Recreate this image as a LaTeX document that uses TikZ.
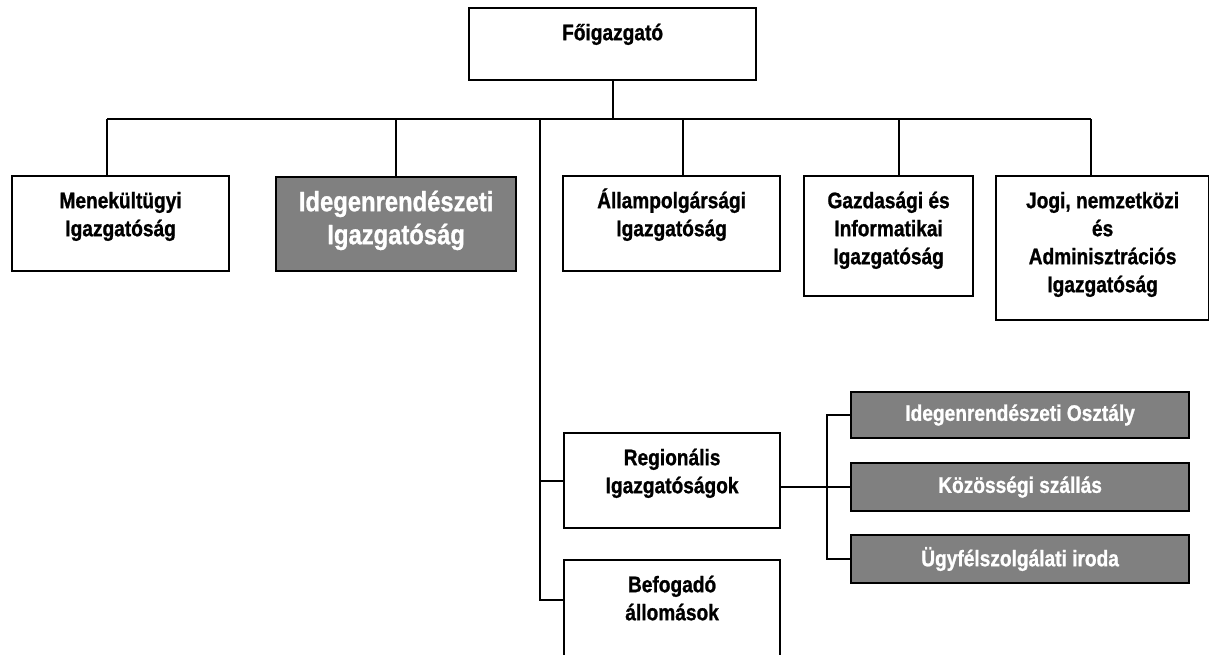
\documentclass[tikz,border=0pt]{standalone}
\usepackage{fontspec}
\setmainfont{Liberation Sans}[FakeStretch=0.85, FakeBold=1]
\definecolor{boxgray}{RGB}{128,128,128}
% invisible lead that fixes the height of a label's first line
\newcommand{\firstline}[1]{\rule{0pt}{#1}}
\begin{document}
\begin{tikzpicture}[x=1pt,y=-1pt,
  wire/.style={line width=2.2pt},
  unit/.style={draw, line width=2.2pt, anchor=north west, inner sep=0pt, fill=white},
  dark/.style={unit, fill=boxgray, text=white, anchor=west,
    font=\fontsize{22.5}{28}\selectfont\bfseries},
  caption/.style={anchor=north, inner sep=0pt, align=center,
    font=\fontsize{22.5}{28}\selectfont\bfseries},
  bigcaption/.style={anchor=north, inner sep=0pt, align=center, text=white,
    font=\fontsize{28}{33}\selectfont\bfseries}
]
\clip (0,0) rectangle (1209,654);
\fill[white] (0,0) rectangle (1209,654);

% boxes
\node[unit, minimum width=287pt, minimum height=72pt]  (top)   at (468,7)   {};
\node[unit, minimum width=217pt, minimum height=95pt]  (men)   at (11,175)  {};
\node[unit, fill=boxgray, minimum width=240pt, minimum height=94pt] (ide) at (275,176) {};
\node[unit, minimum width=217pt, minimum height=95pt]  (allam) at (562,175) {};
\node[unit, minimum width=169pt, minimum height=120pt] (gazd)  at (803,175) {};
\node[unit, minimum width=213pt, minimum height=144pt] (jogi)  at (995,175) {};
\node[unit, minimum width=216pt, minimum height=95pt]  (reg)   at (563,432) {};
\node[unit, minimum width=216pt, minimum height=141pt] (bef)   at (563,559) {};

\node[dark, minimum width=338pt, minimum height=46pt] (osz) at (850,415) {Idegenrendészeti Osztály};
\node[dark, minimum width=338pt, minimum height=48pt] (koz) at (850,487) {Közösségi szállás};
\node[dark, minimum width=338pt, minimum height=48pt] (ugy) at (850,559) {Ügyfélszolgálati iroda};

% labels
\node[caption] (topT)   at ([yshift=-13pt]top.north)   {\firstline{20pt}Főigazgató};
\node[caption] (menT)   at ([yshift=-13pt]men.north)   {\firstline{20pt}Menekültügyi\\Igazgatóság};
\node[bigcaption] (ideT) at ([yshift=-11pt]ide.north)  {\firstline{24pt}Idegenrendészeti\\Igazgatóság};
\node[caption] (allamT) at ([yshift=-13pt]allam.north) {\firstline{20pt}Állampolgársági\\Igazgatóság};
\node[caption] (gazdT)  at ([yshift=-13pt]gazd.north)  {\firstline{20pt}Gazdasági és\\Informatikai\\Igazgatóság};
\node[caption] (jogiT)  at ([yshift=-13pt]jogi.north)  {\firstline{20pt}Jogi, nemzetközi\\és\\Adminisztrációs\\Igazgatóság};
\node[caption] (regT)   at ([yshift=-13pt]reg.north)   {\firstline{20pt}Regionális\\Igazgatóságok};
\node[caption] (befT)   at ([yshift=-13pt]bef.north)   {\firstline{20pt}Befogadó\\állomások};

% junction points of the tree
\coordinate (busL) at (107,119);
\coordinate (busR) at (1091,119);
\coordinate (j0) at (540,119);
\coordinate (j3) at (683,119);
\coordinate (j4) at (899,119);
\coordinate (jb) at (540,600);
\coordinate (rr) at (827,487);

% connectors
\draw[wire] (top.south) -- (top.south |- busL);
\draw[wire] (busL) -- (busR);
\draw[wire] (busL) -- (busL |- men.north);
\draw[wire] (ide.north |- busL) -- (ide.north);
\draw[wire] (j3) -- (j3 |- allam.north);
\draw[wire] (j4) -- (j4 |- gazd.north);
\draw[wire] (busR) -- (busR |- jogi.north);
\draw[wire] (j0) -- (jb) -- (jb -| bef.west);
\draw[wire] (reg.west -| j0) -- (reg.west);
\draw[wire] (koz.west -| reg.east) -- (koz.west);
\draw[wire] (osz.west) -- (osz.west -| rr) -- (ugy.west -| rr) -- (ugy.west);
\end{tikzpicture}
\end{document}
